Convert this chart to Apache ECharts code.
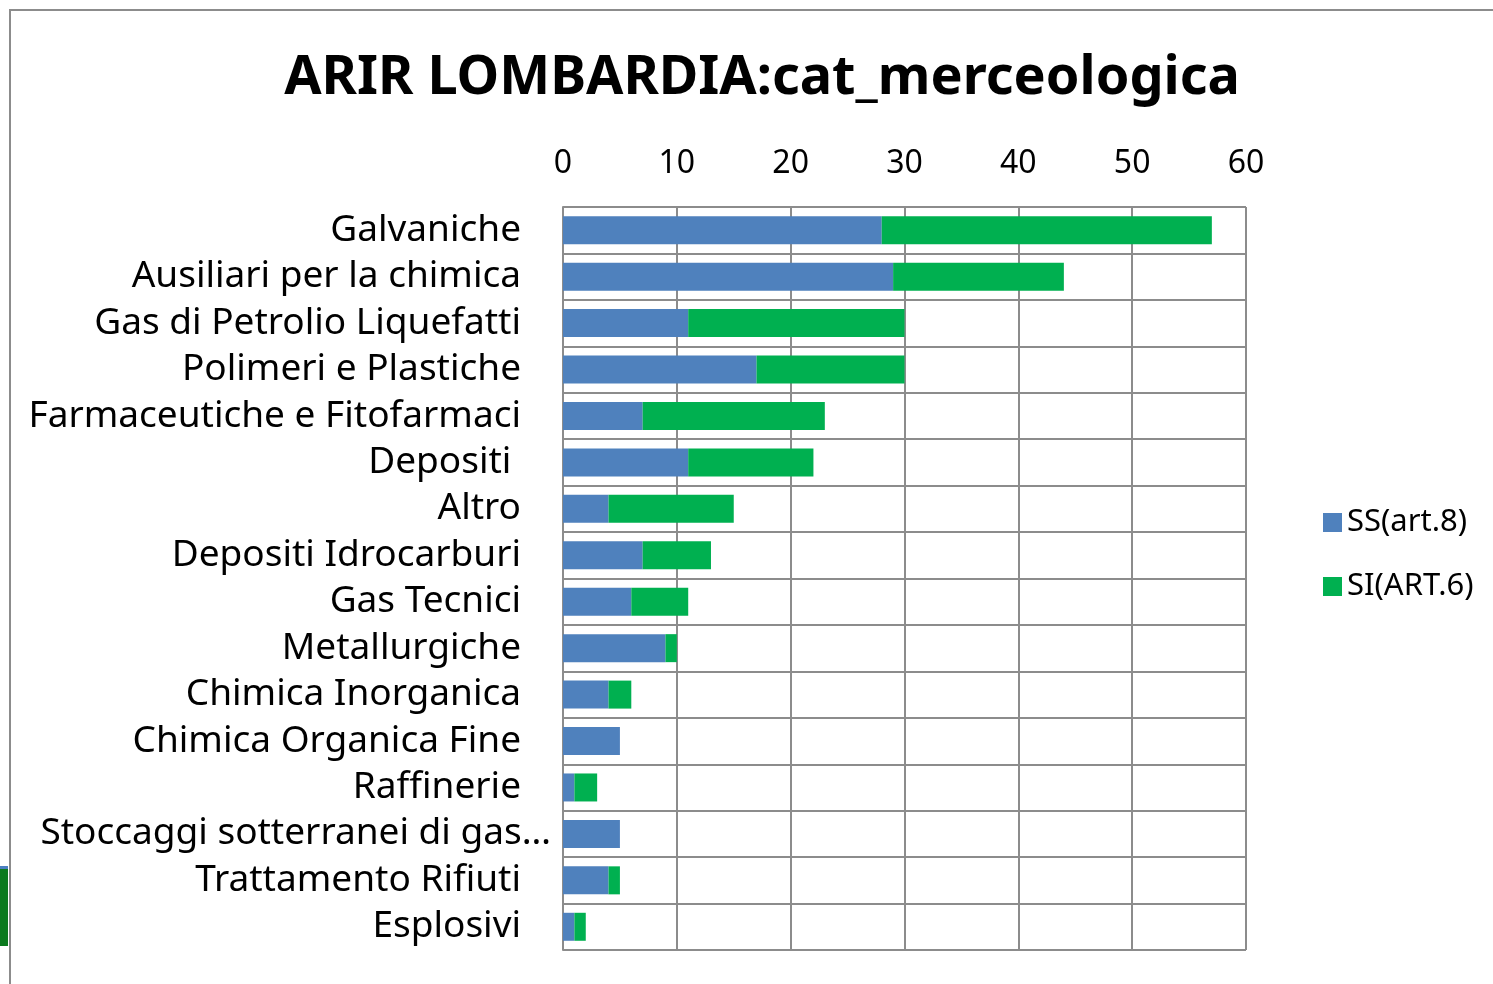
<!DOCTYPE html>
<html>
<head>
<meta charset="utf-8">
<script src="https://cdn.jsdelivr.net/npm/echarts@6/dist/echarts.min.js"></script>
<style>
html,body{margin:0;padding:0;background:#fff;}
#chart{width:1493px;height:984px;}
</style>
</head>
<body>
<div id="chart"></div>
<script>
const categories = ["Galvaniche","Ausiliari per la chimica","Gas di Petrolio Liquefatti","Polimeri e Plastiche","Farmaceutiche e Fitofarmaci","Depositi ","Altro","Depositi Idrocarburi","Gas Tecnici","Metallurgiche","Chimica Inorganica","Chimica Organica Fine","Raffinerie","Stoccaggi sotterranei di gas…","Trattamento Rifiuti","Esplosivi"];
const ssArt8 = [28,29,11,17,7,11,4,7,6,9,4,5,1,5,4,1];
const siArt6 = [29,15,19,13,16,11,11,6,5,1,2,0,2,0,1,1];
const seriesNames = ["SS(art.8)","SI(ART.6)"];
const xTicks = [0,10,20,30,40,50,60];

const FONT = "Noto Sans";
const chart = echarts.init(document.getElementById('chart'));
chart.setOption({
  backgroundColor:'#fff',
  animation:false,
  title:{
    text:'ARIR LOMBARDIA:cat_merceologica',
    left:757, top:47, textAlign:'center',
    textStyle:{fontFamily:FONT,fontWeight:'bold',fontSize:54,color:'#000'}
  },
  legend:{
    orient:'vertical', left:1318, top:502, itemGap:33,
    itemWidth:19, itemHeight:19, icon:'rect',
    textStyle:{fontFamily:FONT,fontSize:31,color:'#000'},
    data:seriesNames
  },
  grid:{left:563,right:247,top:207,bottom:34,containLabel:false},
  xAxis:{
    type:'value', position:'top', min:xTicks[0], max:xTicks[xTicks.length-1], interval:10,
    axisLine:{show:false}, axisTick:{show:false},
    axisLabel:{fontFamily:FONT,fontSize:32,color:'#000',margin:27},
    splitLine:{show:true,lineStyle:{color:'#8c8c8c',width:2}}
  },
  yAxis:{
    type:'category', inverse:true, data:categories,
    axisLine:{show:true,lineStyle:{color:'#8c8c8c',width:2}},
    axisTick:{show:false},
    axisLabel:{
      interval:0, hideOverlap:false,
      fontFamily:FONT,fontSize:37,color:'#000',margin:12,
      formatter:function(v){
        if(v.endsWith('…')) return '{a|'+v+'}';
        return '{a|'+v+'}{p|}';
      },
      rich:{
        a:{fontFamily:FONT,fontSize:37,color:'#000'},
        p:{width:30}
      }
    },
    splitLine:{show:true,interval:0,lineStyle:{color:'#8c8c8c',width:2}}
  },
  graphic:[
    {type:'rect',shape:{x:10,y:10,width:1500,height:1000},style:{fill:'none',stroke:'#8c8c8c',lineWidth:2},silent:true,z:-1},
    {type:'rect',shape:{x:0,y:868,width:8,height:78},style:{fill:'#0b7a1e'},silent:true},
    {type:'rect',shape:{x:0,y:866,width:8,height:3},style:{fill:'#4a7fc0'},silent:true}
  ],
  series:[
    {name:seriesNames[0],type:'bar',stack:'t',data:ssArt8,barWidth:28,itemStyle:{color:'#4F81BD'}},
    {name:seriesNames[1],type:'bar',stack:'t',data:siArt6,barWidth:28,itemStyle:{color:'#00B050'}}
  ]
});
</script>
</body>
</html>
